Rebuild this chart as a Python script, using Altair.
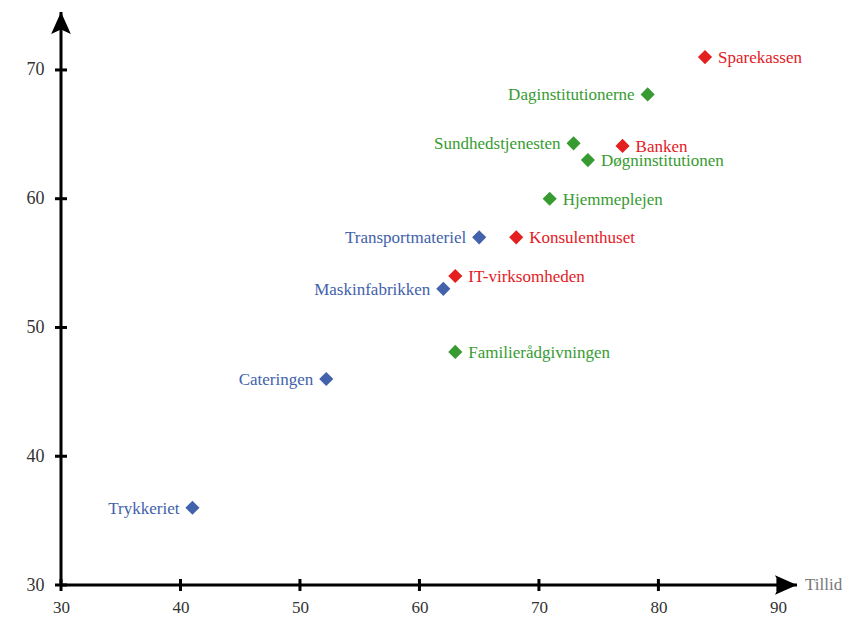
import altair as alt
import pandas as pd

# ---- data ----
names = ["Trykkeriet", "Cateringen", "Maskinfabrikken", "Transportmateriel",
         "IT-virksomheden", "Konsulenthuset", "Banken", "Sparekassen",
         "Familierådgivningen", "Hjemmeplejen", "Døgninstitutionen",
         "Sundhedstjenesten", "Daginstitutionerne"]
tillid = [41, 52.2, 62, 65, 63, 68.1, 77, 83.9, 63, 70.9, 74.1, 72.9, 79.1]
yvals = [36, 46, 53, 57, 54, 57, 64.1, 71, 48.1, 60, 63, 64.3, 68.1]
groups = ["Produktion"] * 4 + ["Finans/rådgivning"] * 4 + ["Offentlig"] * 5
sides = ["left", "left", "left", "left",
         "right", "right", "right", "right",
         "right", "right", "right", "left", "left"]

group_order = ["Produktion", "Finans/rådgivning", "Offentlig"]
group_colors = ["#4262ab", "#e3201f", "#379b31"]

x_ticks = [30, 40, 50, 60, 70, 80, 90]
y_ticks = [30, 40, 50, 60, 70]
x_domain = [30, 91.6]
y_domain = [30, 74.5]
x_title = "Tillid"

FONT = "Liberation Serif"

df = pd.DataFrame({"name": names, "x": tillid, "y": yvals,
                   "group": groups, "side": sides})
xt = pd.DataFrame({"v": x_ticks})
yt = pd.DataFrame({"v": y_ticks})
one = pd.DataFrame({"a": [0]})

xs = alt.Scale(domain=x_domain, nice=False, zero=False)
ys = alt.Scale(domain=y_domain, nice=False, zero=False)
cs = alt.Scale(domain=group_order, range=group_colors)

xaxis = alt.Axis(values=x_ticks, domain=False, ticks=False, grid=False, title=None,
                 labelFont=FONT, labelFontSize=17, labelColor="#333333",
                 labelPadding=14, labelFlush=False)
yaxis = alt.Axis(values=y_ticks, domain=False, ticks=False, grid=False, title=None,
                 labelFont=FONT, labelFontSize=18, labelColor="#333333",
                 labelPadding=17, labelFlush=False)

# axis lines
xline = alt.Chart(one).mark_rule(color="black", strokeWidth=3).encode(
    x=alt.datum(x_domain[0], scale=xs), x2=alt.datum(x_domain[1]),
    y=alt.datum(y_domain[0], scale=ys))
yline = alt.Chart(one).mark_rule(color="black", strokeWidth=3).encode(
    y=alt.datum(y_domain[0], scale=ys), y2=alt.datum(y_domain[1]),
    x=alt.datum(x_domain[0], scale=xs))

# crossing tick marks
xtick = alt.Chart(xt).mark_rule(color="black", strokeWidth=3, yOffset=-6, y2Offset=6).encode(
    x=alt.X("v:Q", scale=xs, axis=xaxis),
    y=alt.datum(y_domain[0], scale=ys), y2=alt.datum(y_domain[0]))
ytick = alt.Chart(yt).mark_rule(color="black", strokeWidth=3, xOffset=-6, x2Offset=6).encode(
    y=alt.Y("v:Q", scale=ys, axis=yaxis),
    x=alt.datum(x_domain[0], scale=xs), x2=alt.datum(x_domain[0]))

arrow_path = "M0,-1 L0.9,1 L0,0.6 L-0.9,1 Z"
yarrow = alt.Chart(one).mark_point(shape=arrow_path, filled=True, color="black",
                                   opacity=1, size=480, yOffset=11).encode(
    x=alt.datum(x_domain[0], scale=xs), y=alt.datum(y_domain[1], scale=ys))
xarrow = alt.Chart(one).mark_point(shape=arrow_path, filled=True, color="black",
                                   opacity=1, size=480, angle=90, xOffset=-11).encode(
    x=alt.datum(x_domain[1], scale=xs), y=alt.datum(y_domain[0], scale=ys))

xlabel = alt.Chart(one).mark_text(text=x_title, font=FONT, fontSize=17, color="#777777",
                                  align="left", baseline="middle", dx=8).encode(
    x=alt.datum(x_domain[1], scale=xs), y=alt.datum(y_domain[0], scale=ys))

points = alt.Chart(df).mark_point(shape="diamond", filled=True, opacity=1, size=200).encode(
    x=alt.X("x:Q", scale=xs, axis=xaxis),
    y=alt.Y("y:Q", scale=ys, axis=yaxis),
    color=alt.Color("group:N", scale=cs, legend=None))

lab_r = alt.Chart(df).transform_filter(alt.datum.side == "right").mark_text(
    font=FONT, fontSize=17, align="left", baseline="middle", dx=13, dy=1).encode(
    x=alt.X("x:Q", scale=xs), y=alt.Y("y:Q", scale=ys), text="name:N",
    color=alt.Color("group:N", scale=cs, legend=None))
lab_l = alt.Chart(df).transform_filter(alt.datum.side == "left").mark_text(
    font=FONT, fontSize=17, align="right", baseline="middle", dx=-13, dy=1).encode(
    x=alt.X("x:Q", scale=xs), y=alt.Y("y:Q", scale=ys), text="name:N",
    color=alt.Color("group:N", scale=cs, legend=None))

chart = alt.layer(xline, yline, xtick, ytick, yarrow, xarrow, xlabel,
                  points, lab_r, lab_l).properties(
    width=736, height=573,
    autosize=alt.AutoSizeParams(type="none"),
    padding={"left": 53, "top": 4, "right": 45, "bottom": 30},
).configure(background="white").configure_view(stroke=None, strokeWidth=0)

chart.save("out.html", embed_options={"renderer": "svg", "actions": False})
